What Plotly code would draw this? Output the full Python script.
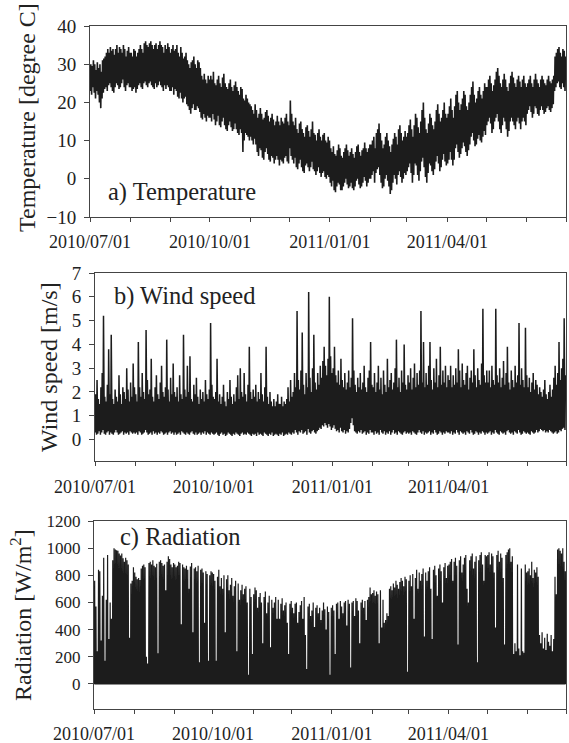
import datetime as dt
import plotly.graph_objects as go

# ---------------- data (one value per day, 2010-07-01 .. 2011-06-30) ----------------
temp_hi = [
    30,29.5,31,30,28.5,30.5,29,30,28,31,31.5,32,33,34,33,34.5,33.5,34,32.5,34,35,33,34.5,34,33,35,34,32,33.5,34.5,33,  # Jul
    33,32,34,33.5,32,33,34,35,34,33,35.5,36,35,34.5,35.5,36,35,34,35,35.5,34,35,36,35,34.5,33,35,34,35.5,34.5,33,     # Aug
    34,35,33.5,34,35,33,32,34.5,33,31.5,32,33,31,30,29,30.5,31,32,30,29,31,30.5,29,27,26,27.5,26,25,27,26,             # Sep
    27,26,28,25,24.5,26,27,25,24,26.5,27.5,25,24,23.5,25,26,24,23,24.5,25.5,24,23,22,24,23.5,21,20.5,22,21,20,19.5,    # Oct
    19,18,17,19.5,18,16,17,18.5,17,15.5,16,17.5,18,16.5,15,16,17,15.5,14,15,16.5,15,14,16,15,14.5,16,17,15,14,         # Nov
    20.5,17,15,14,16,13,12,14.5,15,13,12,11,13.5,14,12.5,11,13,15,12,11.5,10,12,13,11,10,11.5,12,10,9.5,11,10,         # Dec
    8,7,8.5,6.5,6,7.5,9,8,6,5.5,7,8,9,7.5,6,7,8,6.5,5.5,7,8.5,9,7,6,7.5,8,9.5,8,7,8,9,                                 # Jan
    9,10,11,8,12,13,14.5,12,10,8,9,11,12,10,8.5,7,9,10.5,12,11,9,13,14,12,10,11,12.5,11,                               # Feb
    12,14,15.5,13,11,14,17,16,13.5,12,15,18,20,16,13,12,14.5,17,16,14,13,15,18,19.5,17,15,16,18,20,17,16,              # Mar
    17,19,21,18,16,19,22,23,20,18,19.5,21,23,22,19,18,20,22,24,25.5,22,20,21,23,24,22,21,23,25,24,                     # Apr
    24,26,27,25,23,24.5,26,28,29,27,25,24,26,27.5,26,24,23,25,27,28,26.5,25,24,26,27,25.5,24,26,27,25,24,              # May
    25,26,27,25,24,26,27.5,26,25,24,26,27,26,25,24.5,26,27,25.5,25,26,27,32,33,34,34.5,33,32,34,33.5,32,               # Jun
]
temp_lo = [
    23,22,24,22.5,21,23,22,20,18.5,21,22.5,23.5,24,23,24.5,25,24,23,22.5,24,25,24.5,23.5,24,25,26,24,23,24.5,25,24,
    24,23,23.5,24,22.5,23.5,24.5,25,24,23.5,25,25.5,24.5,24,25,25.5,24.5,24,23.5,25,24,24.5,25.5,24.5,24,23,24.5,23.5,24.5,24,23,
    23,24,22,23.5,23,21.5,21,22.5,21,20,21,21.5,19.5,19,18,17,18.5,19.5,18,18,19,18.5,17.5,16,15.5,17,16,15,16.5,16,
    16,15,17,15.5,14,15,16.5,14,13.5,15,16,14,13,12.5,14,15,13.5,12.5,13,14.5,13,12,11.5,13,12,7,10,12,11.5,11,10,
    11,10,9,10.5,9,7,6,8,7.5,5.5,5,7,8,6.5,5,4.5,6,5.5,4,5,6,5,3.5,5,4.5,4,5.5,6,4.5,4,
    8,6,5,4,5.5,3,2.5,4,5,3,2,1.5,3.5,4,3,2,3,4.5,2.5,2,1,2,3,1.5,0.5,1.5,2,0.5,0,1,0.5,
    -1,-2,-0.5,-3,-3.5,-2,-1,-1.5,-3,-3,-2,-1,0,-1.5,-2.5,-2,-1,-2.5,-3,-2,-0.5,0,-1.5,-2.5,-2,-1,0.5,-0.5,-2,-1,0,
    0,1,2,-1,1.5,2.5,3,1,-1,-2.5,-2,0,1,-0.5,-2,-4,-3,-1,1,0,-1.5,1,2,0.5,-1,0,1.5,1,
    2,3,4,1.5,-1,1,4,3.5,1,-0.5,2,4.5,5.5,3,0.5,-1,1.5,4,3.5,2,1,2.5,4.5,6,4,2,3,5,6.5,4.5,3.5,
    4,5,7,5,3.5,5,8,9,7,5.5,6.5,8,9.5,8.5,7,6,7.5,9,11,12,10,8.5,9,10.5,11.5,10,9.5,11,12.5,11.5,
    14,15,16,14.5,12,13,15,16,17,15,13,12,14,16,15,13,11,12.5,15,16,15,14,13,15,16,14.5,13,15,16,15,14,
    17,18,19,17.5,16,17,19,18.5,17,16.5,18,19,18,17,17.5,18.5,19,18,17.5,18.5,19.5,23,24,25,25.5,24,23.5,25,24,23,
]
wind_max = [
    1.9,2.5,1.7,1.5,2.2,2.8,5.2,1.8,1.6,2.3,3.8,1.9,4.4,1.7,1.5,2.1,1.8,1.6,2.7,1.9,1.5,2.2,2.0,1.7,3.0,2.1,1.6,2.4,1.8,3.2,2.2,
    1.9,1.6,4.1,2.2,1.8,2.8,2.0,1.7,4.6,2.5,1.9,2.1,3.4,1.8,1.6,2.2,2.7,1.9,1.7,2.4,3.1,2.0,1.8,2.2,4.2,2.1,1.6,2.6,1.9,3.2,2.0,
    1.8,2.2,1.6,2.7,1.9,1.7,4.4,2.1,1.8,3.1,2.0,3.5,1.7,1.6,2.3,1.9,2.6,1.8,1.5,2.1,1.7,2.0,1.6,2.5,1.9,1.7,2.1,4.9,2.3,1.8,
    1.7,2.0,3.4,1.6,1.9,1.5,1.8,2.3,1.6,1.4,2.0,1.7,2.5,1.8,1.5,1.9,1.6,2.2,2.7,1.7,3.0,2.0,1.8,2.8,1.9,1.6,2.3,3.9,2.0,1.7,2.1,
    1.8,2.3,1.6,2.0,1.7,2.8,1.9,1.6,2.2,3.9,1.8,1.5,2.0,1.6,1.4,1.7,1.4,1.6,1.9,1.5,1.5,1.8,1.4,1.6,1.5,1.7,2.2,1.6,2.5,1.8,
    2.0,2.8,2.2,5.4,2.5,2.1,2.9,4.5,2.3,1.9,2.8,2.2,6.2,2.6,2.0,3.0,4.4,2.4,2.1,2.8,2.3,3.1,2.6,3.3,3.9,3.1,2.7,3.4,6.0,3.5,2.8,
    3.0,3.9,2.7,2.4,2.9,2.3,3.4,2.5,2.2,2.8,2.1,2.4,2.9,2.2,2.6,5.1,2.9,2.3,2.0,2.6,2.2,2.8,2.1,2.4,3.1,2.2,2.0,2.6,2.9,4.1,2.3,
    2.2,2.8,2.0,2.4,3.1,2.1,2.6,1.9,2.9,2.3,2.0,3.4,2.2,2.5,2.8,2.1,2.4,3.0,4.2,2.2,2.6,2.0,2.9,2.4,4.0,2.3,2.1,2.7,
    2.4,3.0,2.1,2.6,3.2,2.2,2.8,2.3,2.9,5.4,2.4,4.1,2.2,2.8,2.3,3.1,4.1,2.5,2.1,3.0,2.4,3.4,2.2,2.7,3.9,2.3,2.9,2.4,3.1,2.2,2.7,
    2.5,3.1,2.2,2.7,2.3,3.0,2.4,3.8,2.9,2.2,3.2,2.5,2.3,2.8,3.1,2.1,2.6,2.9,2.4,3.8,2.7,2.2,3.0,2.5,2.3,3.2,5.5,2.7,2.4,2.9,
    2.4,2.9,2.2,3.1,2.5,2.3,5.5,2.7,2.4,3.0,2.2,2.6,3.3,2.3,2.8,3.9,2.4,2.1,2.9,2.5,2.2,3.1,2.4,2.7,4.9,2.3,3.0,2.5,2.2,4.7,2.7,
    2.2,2.6,2.0,2.4,2.8,2.1,2.5,2.3,1.9,2.2,2.0,1.8,2.1,2.5,1.9,1.7,2.0,2.3,1.8,2.1,2.6,3.1,2.3,2.8,4.1,2.5,3.0,3.4,5.1,2.7,
]
wind_min = [
    0.3,0.2,0.25,0.35,0.2,0.3,0.4,0.25,0.2,0.3,0.35,0.2,0.3,0.25,0.2,0.3,0.4,0.3,0.2,0.25,0.3,0.35,0.2,0.3,0.25,0.3,0.2,0.35,0.3,0.25,0.3,
    0.25,0.3,0.2,0.35,0.3,0.2,0.25,0.3,0.4,0.3,0.2,0.25,0.3,0.2,0.35,0.25,0.3,0.2,0.3,0.25,0.35,0.3,0.2,0.25,0.3,0.2,0.3,0.35,0.25,0.3,0.2,
    0.3,0.2,0.25,0.3,0.2,0.35,0.3,0.25,0.2,0.3,0.25,0.2,0.3,0.35,0.25,0.2,0.3,0.2,0.25,0.3,0.2,0.3,0.25,0.35,0.2,0.3,0.25,0.2,0.3,0.25,
    0.2,0.25,0.3,0.2,0.15,0.25,0.3,0.2,0.25,0.15,0.2,0.3,0.25,0.2,0.15,0.25,0.2,0.3,0.25,0.2,0.15,0.25,0.3,0.2,0.25,0.2,0.3,0.25,0.2,0.15,0.25,
    0.2,0.25,0.15,0.3,0.2,0.25,0.2,0.15,0.3,0.25,0.2,0.15,0.25,0.2,0.3,0.15,0.2,0.25,0.2,0.15,0.25,0.2,0.3,0.15,0.2,0.25,0.2,0.3,0.25,0.2,
    0.3,0.25,0.4,0.3,0.2,0.35,0.3,0.4,0.25,0.3,0.35,0.2,0.45,0.3,0.25,0.35,0.4,0.3,0.25,0.35,0.4,0.5,0.45,0.6,0.55,0.7,0.6,0.5,0.65,0.55,0.4,
    0.5,0.6,0.45,0.35,0.4,0.3,0.5,0.35,0.3,0.4,0.25,0.35,0.3,0.45,0.7,0.9,0.6,0.35,0.3,0.25,0.35,0.3,0.4,0.25,0.3,0.35,0.2,0.3,0.25,0.4,0.3,
    0.3,0.2,0.35,0.25,0.3,0.2,0.4,0.3,0.25,0.35,0.2,0.3,0.25,0.35,0.2,0.3,0.4,0.25,0.3,0.2,0.35,0.3,0.25,0.2,0.3,0.35,0.25,0.3,
    0.25,0.3,0.2,0.35,0.3,0.25,0.2,0.3,0.4,0.3,0.25,0.35,0.2,0.3,0.25,0.3,0.35,0.2,0.3,0.25,0.4,0.3,0.2,0.25,0.35,0.3,0.2,0.3,0.25,0.35,0.3,
    0.3,0.25,0.35,0.2,0.3,0.25,0.4,0.3,0.2,0.35,0.3,0.25,0.3,0.2,0.35,0.3,0.25,0.4,0.3,0.2,0.25,0.35,0.3,0.2,0.3,0.25,0.35,0.3,0.2,0.3,
    0.25,0.3,0.35,0.2,0.3,0.25,0.4,0.3,0.25,0.2,0.35,0.3,0.25,0.3,0.2,0.35,0.4,0.3,0.25,0.3,0.2,0.35,0.3,0.25,0.4,0.3,0.2,0.25,0.35,0.3,0.25,
    0.3,0.25,0.2,0.35,0.3,0.25,0.3,0.4,0.3,0.35,0.45,0.4,0.35,0.4,0.3,0.35,0.3,0.4,0.35,0.3,0.25,0.3,0.35,0.25,0.3,0.4,0.35,0.45,0.5,0.4,
]
rad_peak = [
    760,570,240,840,830,320,650,930,170,620,950,330,600,480,910,1000,990,985,980,960,945,960,925,900,930,910,880,340,740,760,860,
    820,790,770,780,765,850,870,880,860,200,150,890,900,880,910,870,860,885,225,900,910,890,870,880,690,900,940,920,880,860,890,
    880,860,870,900,890,440,880,860,850,870,840,700,864,890,380,850,860,830,870,160,840,850,820,450,830,810,170,800,830,820,
    810,760,170,790,840,720,780,700,800,380,770,800,690,730,780,650,720,760,240,740,620,690,730,660,700,720,600,68,700,640,220,
    660,710,690,560,640,670,600,300,640,680,520,600,650,270,620,560,600,640,480,620,480,590,630,540,580,600,450,220,590,610,
    560,520,590,600,450,530,580,610,480,640,360,110,570,590,500,540,600,420,560,580,520,560,470,540,600,550,400,570,530,68,560,
    580,540,220,590,600,480,610,570,520,600,610,430,620,590,120,600,610,500,630,610,540,300,600,620,560,610,470,620,640,710,660,
    670,690,650,680,660,300,690,416,620,450,470,520,500,700,720,690,740,710,760,730,700,750,780,760,720,790,770,90,
    760,800,720,810,480,780,840,700,820,760,810,850,350,820,760,830,860,700,330,840,870,800,650,850,880,830,600,860,890,780,870,
    880,900,920,760,900,930,870,290,910,940,820,880,930,950,700,600,910,940,960,850,900,940,160,910,950,970,880,760,950,940,
    950,970,880,960,940,820,416,950,980,900,960,930,780,290,950,970,990,1000,900,940,220,300,240,880,260,210,850,240,230,880,820,
    830,850,800,900,780,840,820,860,790,360,300,380,260,340,250,370,310,280,360,240,330,790,660,990,1000,980,960,1000,900,830,
]
for name, arr in [("temp_hi", temp_hi), ("temp_lo", temp_lo), ("wind_max", wind_max),
                  ("wind_min", wind_min), ("rad_peak", rad_peak)]:
    assert len(arr) == 365, (name, len(arr))

tick_labels = ["2010/07/01", "2010/10/01", "2011/01/01", "2011/04/01"]
panel_labels = ["a) Temperature", "b) Wind speed", "c) Radiation"]
axis_titles = ["Temperature [degree C]", "Wind speed [m/s]", "Radiation [W/m<sup>2</sup>]"]

# ---------------- build the hourly-like traces ----------------
start = dt.datetime(2010, 7, 1)
end = dt.datetime(2011, 7, 1)
H = dt.timedelta(hours=1)

tx, ty = [], []
for i, (lo, hi) in enumerate(zip(temp_lo, temp_hi)):
    d = start + dt.timedelta(days=i)
    tx += [d + 6 * H, d + 15 * H]
    ty += [lo, hi]

wx, wy = [], []
for i, (lo, hi) in enumerate(zip(wind_min, wind_max)):
    d = start + dt.timedelta(days=i)
    wx += [d + 5 * H, d + 14 * H]
    wy += [lo, hi]

rx, ry = [], []
for i, p in enumerate(rad_peak):
    d = start + dt.timedelta(days=i)
    rx += [d + 6 * H, d + 12 * H, d + 18 * H]
    ry += [0, p, 0]

LINE = "#1c1c1c"
fig = go.Figure()
fig.add_trace(go.Scatter(x=tx, y=ty, mode="lines", line=dict(color=LINE, width=1.6), xaxis="x", yaxis="y"))
fig.add_trace(go.Scatter(x=wx, y=wy, mode="lines", line=dict(color=LINE, width=1.5), xaxis="x2", yaxis="y2"))
fig.add_trace(go.Scatter(x=rx, y=ry, mode="lines", line=dict(color=LINE, width=1.2), xaxis="x3", yaxis="y3"))

# ---------------- layout ----------------
W, HGT = 569, 743
def fx(p): return p / W
def fy(p): return 1 - p / HGT

month_ticks = [dt.datetime(2010 + (6 + k) // 12, (6 + k) % 12 + 1, 1) for k in range(13)]
month_text = []
for m in month_ticks:
    s = m.strftime("%Y/%m/%d")
    month_text.append(s if s in tick_labels else " ")

FONT = "Liberation Serif, Times New Roman, Times, serif"
AX = "#444444"
panels = [  # x-left, x-right, y-top, y-bottom (px)
    (90, 566, 26, 217),
    (95, 566, 273, 461),
    (94, 566, 521, 709),
]
yranges = [[-10, 40], [-0.9, 7], [-185, 1200]]
ydticks = [10, 1, 200]
ytickfont = [19, 19, 17]
xstand = [4, 5, 4]

layout = dict(width=W, height=HGT, margin=dict(l=0, r=0, t=0, b=0, autoexpand=False),
              paper_bgcolor="white", plot_bgcolor="white", showlegend=False,
              font=dict(family=FONT, color="#222"))
for k, (xl, xr, yt, yb) in enumerate(panels):
    sx = "" if k == 0 else str(k + 1)
    layout["xaxis" + sx] = dict(
        domain=[fx(xl), fx(xr)], anchor="y" + sx, type="date", range=[start, end],
        tickmode="array", tickvals=month_ticks, ticktext=month_text, automargin=False,
        tickangle=0, ticks="outside", ticklen=4, tickcolor=AX, tickwidth=1,
        showline=True, linecolor=AX, linewidth=1, mirror=True,
        showgrid=False, zeroline=False, ticklabelstandoff=xstand[k],
        tickfont=dict(size=18, family=FONT, color="#222"))
    layout["yaxis" + sx] = dict(
        domain=[fy(yb), fy(yt)], anchor="x" + sx, range=yranges[k], automargin=False,
        tick0=0, dtick=ydticks[k], ticks="outside", ticklen=5, tickcolor=AX,
        showline=True, linecolor=AX, linewidth=1, mirror=True,
        showgrid=False, zeroline=False, ticklabelstandoff=4,
        tickfont=dict(size=ytickfont[k], family=FONT, color="#222"))

annotations = []
label_pos = [(106, 192), (112, 296), (118, 537)]
for (lx, ly), txt in zip(label_pos, panel_labels):
    annotations.append(dict(text=txt, xref="paper", yref="paper", x=fx(lx), y=fy(ly),
                            xanchor="left", yanchor="middle", showarrow=False,
                            font=dict(size=24.5, family=FONT, color="#222")))
title_pos = [(27, 118), (49, 367), (21, 615)]
for (tx_, ty_), txt in zip(title_pos, axis_titles):
    annotations.append(dict(text=txt, xref="paper", yref="paper", x=fx(tx_), y=fy(ty_),
                            xanchor="center", yanchor="middle", showarrow=False, textangle=-90,
                            font=dict(size=24, family=FONT, color="#222")))
layout["annotations"] = annotations

fig.update_layout(**layout)
fig.write_html("out.html")
